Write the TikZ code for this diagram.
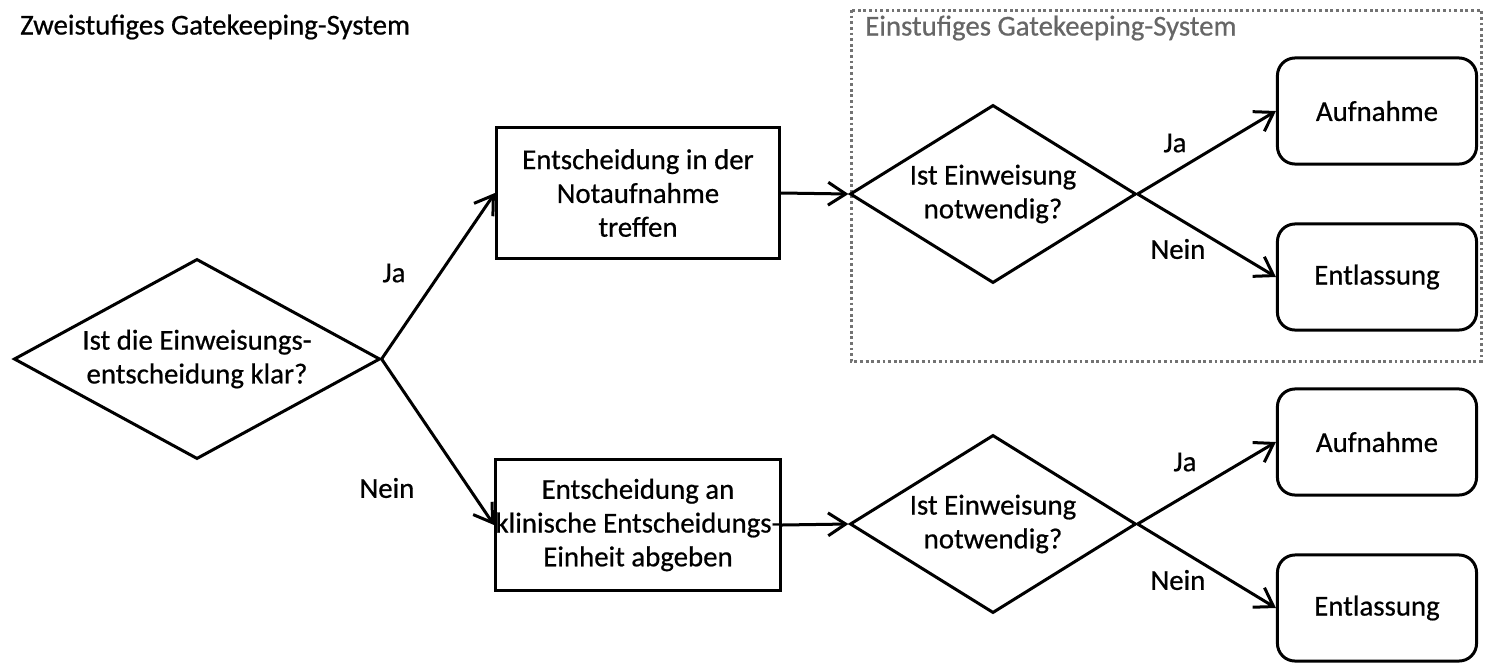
\documentclass[tikz,border=0pt]{standalone}
\usepackage{fontspec}
\setmainfont{Carlito}[FakeBold=0.6]
\usetikzlibrary{shapes.geometric,arrows.meta}

\begin{document}
\begin{tikzpicture}[x=0.01cm,y=-0.01cm,
		font=\fontsize{8.2}{9.6}\selectfont,
		line width=0.3mm, >={Straight Barb[length=5pt,width=6.5pt]},
		frage/.style={diamond,draw,inner sep=0pt,align=center},
		schritt/.style={rectangle,draw,inner sep=0pt,minimum width=2.83cm,minimum height=1.31cm,align=center},
		ende/.style={rectangle,rounded corners=5pt,draw,inner sep=0pt,minimum width=1.99cm,minimum height=1.06cm}]
		\useasboundingbox (0,0) rectangle (1493,663);

		\node[anchor=west] (t2) at (7,27) {Zweistufiges Gatekeeping-System};
		\draw[black!55, dash pattern=on 0.8pt off 0.8pt] (851,10) rectangle (1481,361);
		\node[anchor=west,black!60] (t1) at (852,28) {Einstufiges Gatekeeping-System};

		\node[frage,minimum width=3.66cm,minimum height=2cm,aspect=1.83] (q) at (197,359) {Ist die Einweisungs-\\entscheidung klar?};

		\node[schritt] (nota) at (638,193) {Entscheidung in der\\Notaufnahme\\treffen};
		\node[schritt] (abg) at (638,525) {Entscheidung an\\klinische Entscheidungs-\\Einheit abgeben};

		\node[frage,minimum width=2.86cm,minimum height=1.78cm,aspect=1.6] (q1) at (993,194) {Ist Einweisung\\notwendig?};
		\node[frage,minimum width=2.86cm,minimum height=1.78cm,aspect=1.6] (q2) at (993,524) {Ist Einweisung\\notwendig?};

		\node[ende] (auf1) at (1377,111) {Aufnahme};
		\node[ende] (ent1) at (1377,277) {Entlassung};
		\node[ende] (auf2) at (1377,442) {Aufnahme};
		\node[ende] (ent2) at (1377,608) {Entlassung};

		\draw[->] (q.east) -- (nota.west);
		\draw[->] (q.east) -- (abg.west);
		\draw[->] (nota.east) -- (q1.west);
		\draw[->] (abg.east) -- (q2.west);
		\draw[->] (q1.east) -- (auf1.west);
		\draw[->] (q1.east) -- (ent1.west);
		\draw[->] (q2.east) -- (auf2.west);
		\draw[->] (q2.east) -- (ent2.west);

		\node (ja0) at (394,273) {Ja};
		\node (nein0) at (387,488) {Nein};
		\node (ja1) at (1175,143) {Ja};
		\node (nein1) at (1178,249) {Nein};
		\node (ja2) at (1185,462) {Ja};
		\node (nein2) at (1178,580) {Nein};
	\end{tikzpicture}
\end{document}
